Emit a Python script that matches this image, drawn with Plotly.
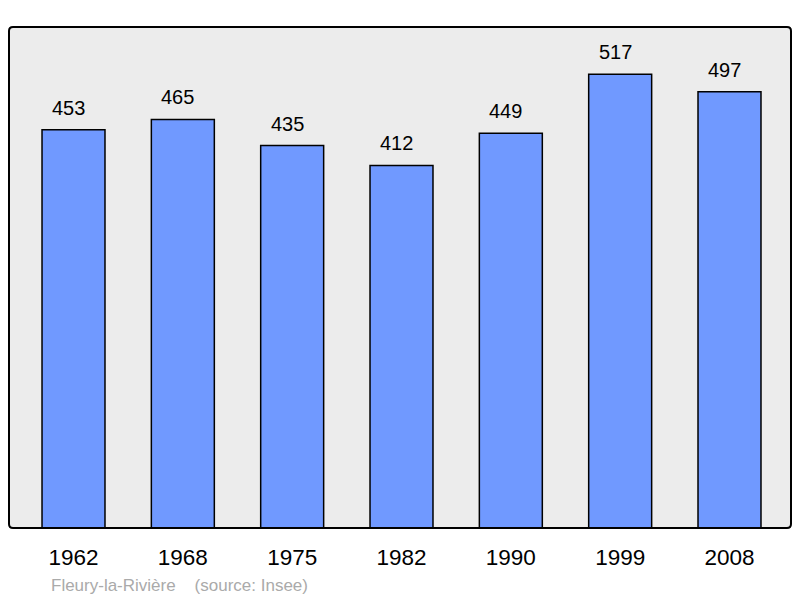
import plotly.graph_objects as go

years = ["1962", "1968", "1975", "1982", "1990", "1999", "2008"]
population = [453, 465, 435, 412, 449, 517, 497]
footer = "Fleury-la-Rivière\u00a0\u00a0\u00a0\u00a0(source: Insee)"

W, H = 800, 598
L, R, T, B = 9, 9, 27, 70
y_min, y_max = -5.3, 571.4
bar_base = y_min - 2  # bars start just below the visible frame bottom

xs = list(range(len(years)))
FONT = "Liberation Sans, Arial, sans-serif"

fig = go.Figure()
fig.add_trace(go.Bar(
    x=xs, y=[v - bar_base for v in population], base=bar_base,
    width=0.576,
    marker=dict(color="#7099ff", line=dict(color="#000000", width=1.5)),
    hoverinfo="skip",
))

for xi, v in zip(xs, population):
    fig.add_annotation(x=xi, y=v, text=str(v), showarrow=False, yshift=22, xshift=-5,
                       yanchor="middle", xanchor="center",
                       font=dict(family=FONT, size=20, color="#000000"))

fig.add_annotation(xref="paper", yref="paper", x=(49 - L) / (W - L - R), y=(528 - 585) / (H - T - B),
                   text=footer, showarrow=False, xanchor="left", yanchor="middle",
                   font=dict(family=FONT, size=17, color="#aaaaaa"))

# rounded frame around plot area
pw, ph = W - L - R, H - T - B
rx, ry = 4 / pw, 4 / ph
path = (f"M {rx},0 L {1-rx},0 Q 1,0 1,{ry} L 1,{1-ry} Q 1,1 {1-rx},1 "
        f"L {rx},1 Q 0,1 0,{1-ry} L 0,{ry} Q 0,0 {rx},0 Z")
fig.add_shape(type="path", xref="paper", yref="paper", path=path,
              line=dict(color="#000000", width=2), fillcolor="rgba(0,0,0,0)", layer="above")

fig.update_layout(
    width=W, height=H,
    margin=dict(l=L, r=R, t=T, b=B, pad=0),
    paper_bgcolor="#ffffff",
    plot_bgcolor="#ececec",
    showlegend=False,
    xaxis=dict(
        range=[-0.59, 6.5625], tickmode="array", tickvals=xs, ticktext=years,
        showgrid=False, zeroline=False, showline=False, ticks="",
        ticklabelstandoff=13,
        tickfont=dict(family=FONT, size=22.5, color="#000000"),
        fixedrange=True,
    ),
    yaxis=dict(
        range=[y_min, y_max], showgrid=False, zeroline=False, showline=False,
        showticklabels=False, ticks="", fixedrange=True,
    ),
)

fig.write_html("out.html", config={"displayModeBar": False},
               post_script="document.body.style.margin='0';document.body.style.overflow='hidden';")
